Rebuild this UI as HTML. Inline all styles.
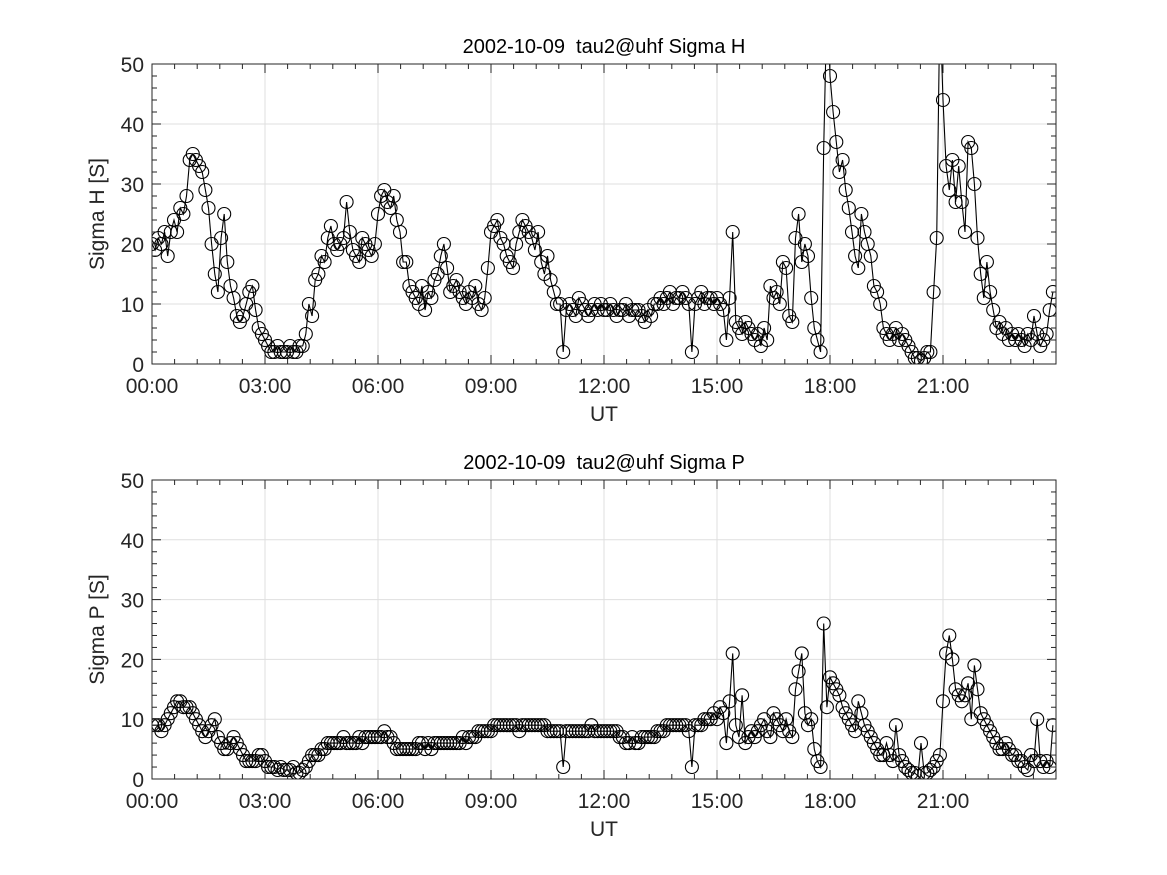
<!DOCTYPE html>
<html><head><meta charset="utf-8"><style>
body{margin:0;background:#fff;}
svg{display:block;font-family:"Liberation Sans",sans-serif;}
</style></head><body>
<svg id="fig" width="1167" height="875" viewBox="0 0 1167 875"></svg>
<script>
const xTickLabels=["00:00","03:00","06:00","09:00","12:00","15:00","18:00","21:00"];
const yTickLabels=["0","10","20","30","40","50"];
const sigmaH=[
20,19,21,20,22,18,22,24,22,26,25,28,
34,35,34,33,32,29,26,20,15,12,21,25,
17,13,11,8,7,8,10,12,13,9,6,5,
4,3,2,2,3,2,2,2,3,2,2,3,
3,5,10,8,14,15,18,17,21,23,20,19,
20,21,27,22,19,18,17,21,20,19,18,20,
25,28,29,27,26,28,24,22,17,17,13,12,
11,10,13,9,12,11,14,15,18,20,16,12,
13,14,12,11,10,12,11,13,10,9,11,16,
22,23,24,21,20,18,17,16,20,22,24,23,
22,21,19,22,17,15,18,14,12,10,10,2,
9,10,9,8,11,10,9,8,9,10,9,10,
9,9,10,9,8,9,9,10,8,9,9,9,
8,7,9,8,10,10,11,10,11,12,10,11,
11,12,11,10,2,10,11,12,10,11,11,10,
11,10,9,4,11,22,7,6,5,7,6,5,
4,5,3,6,4,13,11,12,10,17,16,8,
7,21,25,17,20,18,11,6,4,2,36,60,
48,42,37,32,34,29,26,22,18,16,25,22,
20,18,13,12,10,6,5,4,5,6,4,5,
4,3,2,1,1,0.5,1,2,2,12,21,60,
44,33,29,34,27,33,27,22,37,36,30,21,
15,11,17,12,9,6,7,5,6,4,5,4,
5,4,3,5,4,8,5,3,4,5,9,12];
const sigmaP=[
9,9,9,8,9,10,11,12,13,13,12,12,
12,11,10,9,8,7,8,9,10,7,6,5,
5,6,7,6,5,4,3,3,3,3,4,4,
3,2,2,2,1.5,2,1.5,1.5,1.5,2,1,1,
1.5,2,3,4,4,4,5,5,6,6,6,6,
6,7,6,6,6,6,7,6,7,7,7,7,
7,7,8,7,7,6,5,5,5,5,5,5,
5,6,6,5,6,5,6,6,6,6,6,6,
6,6,6,7,6,7,7,7,8,8,8,8,
8,9,9,9,9,9,9,9,9,8,9,9,
9,9,9,9,9,9,8,8,8,8,8,2,
8,8,8,8,8,8,8,8,9,8,8,8,
8,8,8,8,8,7,7,6,6,7,6,6,
7,7,7,7,7,8,8,8,9,9,9,9,
9,9,9,8,2,9,9,9,10,10,10,11,
10,12,11,6,13,21,9,7,14,6,7,8,
7,8,9,10,8,7,11,10,9,8,10,8,
7,15,18,21,11,9,10,5,3,2,26,12,
17,16,15,14,12,11,10,9,8,13,11,9,
8,7,6,5,4,4,6,4,3,9,4,3,
2,1.5,1,1,0.5,6,1,1,1.5,2,3,4,
13,21,24,20,15,14,13,14,16,10,19,15,
11,10,9,8,7,6,5,5,6,5,4,4,
3,3,2,1.5,4,3,10,3,2,3,2,9];
const stepMinutes=5;

const NS="http://www.w3.org/2000/svg";
const svg=document.getElementById('fig');
function mk(tag,attrs,parent){const e=document.createElementNS(NS,tag);for(const k in attrs)e.setAttribute(k,attrs[k]);(parent||svg).appendChild(e);return e;}

function panel(id,top,bottom,title,ylabel,data){
  const L=152,R=1056;
  const xs=h=>L+(R-L)*h/24;
  const ys=v=>bottom-(bottom-top)*v/50;
  const g=mk('g',{});
  
  
  const cp=mk('clipPath',{id:id+'clip'},g);
  mk('rect',{x:L,y:top,width:R-L,height:bottom-top},cp);
  for(let i=0;i<8;i++){const x=xs(i*3);const l=mk('line',{x1:x,x2:x,y1:top,y2:bottom,stroke:'#dfdfdf','stroke-width':1},g);
    
    }
  for(let i=0;i<6;i++){const y=ys(i*10);const l=mk('line',{x1:L,x2:R,y1:y,y2:y,stroke:'#dfdfdf','stroke-width':1},g);
    
    }
  const sg=mk('g',{'clip-path':`url(#${id}clip)`},g);
  
  
  const pts=data.map((v,i)=>[xs(i*stepMinutes/60),ys(v)]);
  const line=mk('polyline',{points:pts.map(p=>p[0].toFixed(1)+','+p[1].toFixed(1)).join(' '),fill:'none',stroke:'#000','stroke-width':1.1},sg);
  
  
  pts.forEach(p=>{const c=mk('circle',{cx:p[0].toFixed(1),cy:p[1].toFixed(1),r:6.5,fill:'none',stroke:'#000','stroke-width':1.1},sg);
    
    });
  const tk=mk('g',{stroke:'#262626','stroke-width':1},g);
  
  
  for(let m=0;m<=1440;m+=36){const x=xs(m/60);const len=(m%180===0)?9:5;
    mk('line',{x1:x,x2:x,y1:bottom,y2:bottom-len},tk);mk('line',{x1:x,x2:x,y1:top,y2:top+len},tk);}
  for(let v=0;v<=50;v+=2){const y=ys(v);const len=(v%10===0)?9:5;
    mk('line',{x1:L,x2:L+len,y1:y,y2:y},tk);mk('line',{x1:R,x2:R-len,y1:y,y2:y},tk);}
  const box=mk('rect',{x:L,y:top,width:R-L,height:bottom-top,fill:'none',stroke:'#262626','stroke-width':1},g);
  
  
  xTickLabels.forEach((t,i)=>{const e=mk('text',{x:xs(i*3),y:bottom+29,'text-anchor':'middle','font-size':21,fill:'#262626'},g);e.textContent=t;
    
    });
  yTickLabels.forEach((t,i)=>{const e=mk('text',{x:L-8,y:ys(i*10)+8,'text-anchor':'end','font-size':21,fill:'#262626'},g);e.textContent=t;
    
    });
  const xt=mk('text',{x:(L+R)/2,y:bottom+57,'text-anchor':'middle','font-size':21,fill:'#262626'},g);xt.textContent='UT';
  
  
  const yt=mk('text',{x:0,y:0,'text-anchor':'middle','font-size':21,fill:'#262626',transform:`translate(104,${(top+bottom)/2}) rotate(-90)`},g);yt.textContent=ylabel;
  
  
  const tt=mk('text',{x:(L+R)/2,y:top-11,'text-anchor':'middle','font-size':20,fill:'#000'},g);tt.textContent=title;tt.style.whiteSpace='pre';
  
  
}
panel('sigma-h',64,364,'2002-10-09  tau2@uhf Sigma H','Sigma H [S]',sigmaH);
panel('sigma-p',480,779,'2002-10-09  tau2@uhf Sigma P','Sigma P [S]',sigmaP);
</script>
</body></html>
